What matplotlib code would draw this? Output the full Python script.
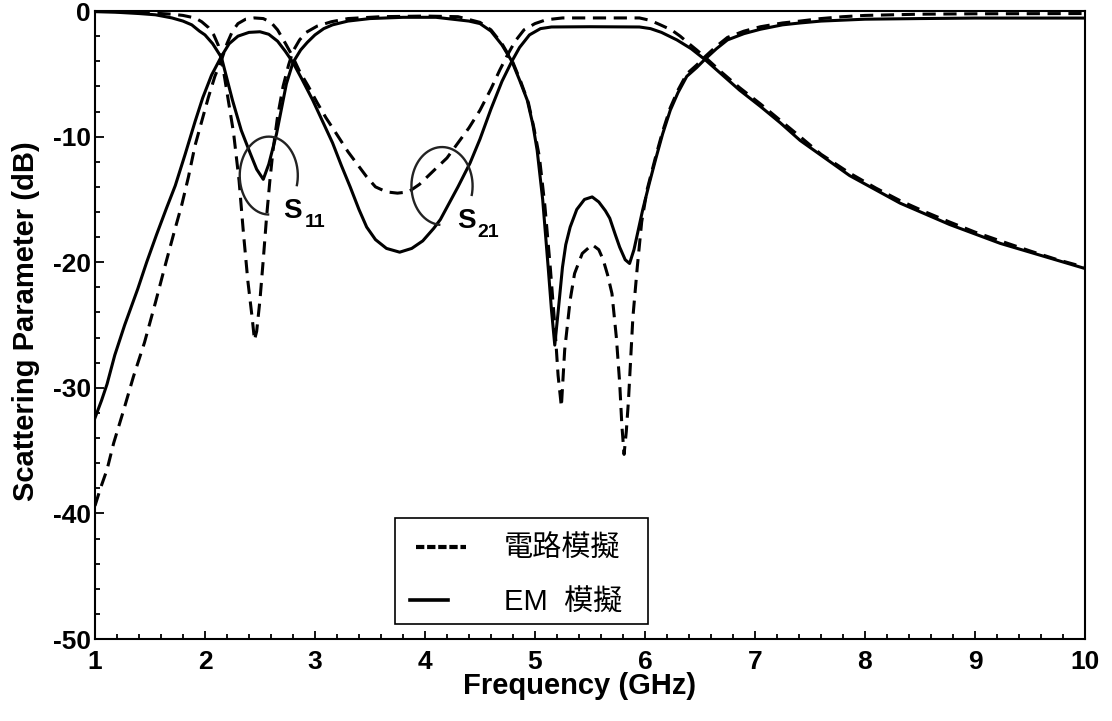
import matplotlib
matplotlib.use("Agg")
import numpy as np
import matplotlib.pyplot as plt
from matplotlib.patches import Rectangle
from matplotlib.lines import Line2D
from matplotlib.ticker import MultipleLocator

plt.rcParams['font.family'] = ['Liberation Sans', 'Noto Sans CJK TC', 'DejaVu Sans']
plt.rcParams['lines.scale_dashes'] = False

# ---------------- data ----------------
em_s11_f = [1.0, 1.2, 1.4, 1.55, 1.7, 1.8, 1.88, 1.95, 2.0, 2.07, 2.15, 2.25, 2.33, 2.41, 2.47,
            2.53, 2.58, 2.65, 2.74, 2.8, 2.87, 2.93, 3.0, 3.08, 3.16, 3.3, 3.5, 3.8, 4.1, 4.4,
            4.5, 4.6, 4.7, 4.79, 4.86, 4.93, 4.98, 5.02, 5.07, 5.12, 5.15, 5.18, 5.21, 5.25,
            5.28, 5.32, 5.38, 5.45, 5.52, 5.58, 5.64, 5.68, 5.73, 5.77, 5.82, 5.86, 5.9, 5.94,
            5.98, 6.04, 6.1, 6.16, 6.23, 6.3, 6.38, 6.47, 6.55, 6.65, 6.75, 6.9, 7.05, 7.25,
            7.41, 7.6, 8.0, 8.5, 9.0, 10.0]
em_s11_db = [-0.05, -0.1, -0.2, -0.3, -0.55, -0.8, -1.1, -1.6, -1.9, -2.6, -3.7, -7.1, -9.5, -11.3, -12.6,
             -13.4, -12.2, -9.8, -5.8, -4.1, -3.1, -2.5, -1.9, -1.4, -1.1, -0.8, -0.6, -0.5, -0.5, -0.8,
             -1.0, -1.6, -2.7, -4.0, -5.5, -7.1, -9.0, -11.1, -15.0, -20.4, -23.8, -26.6, -24.0, -20.4,
             -18.6, -17.2, -15.8, -15.0, -14.8, -15.2, -15.9, -16.5, -17.8, -18.8, -19.8, -20.1, -19.0, -17.4,
             -15.8, -13.7, -11.7, -9.8, -7.9, -6.5, -5.2, -4.5, -3.8, -3.0, -2.3, -1.8, -1.45, -1.1,
             -0.95, -0.8, -0.65, -0.6, -0.56, -0.56]

ckt_s11_f = [1.0, 1.4, 1.7, 1.8, 1.91, 1.97, 2.03, 2.08, 2.12, 2.16, 2.21, 2.26, 2.31, 2.35, 2.39,
             2.43, 2.45, 2.47, 2.5, 2.53, 2.56, 2.59, 2.62, 2.66, 2.71, 2.76, 2.8, 2.86, 2.92, 3.02,
             3.15, 3.3, 3.6, 4.0, 4.3, 4.5, 4.6, 4.7, 4.8, 4.87, 4.94, 4.99, 5.04, 5.09, 5.14,
             5.18, 5.21, 5.24, 5.27, 5.32, 5.36, 5.43, 5.52, 5.58, 5.62, 5.66, 5.7, 5.74, 5.77,
             5.79, 5.81, 5.83, 5.85, 5.89, 5.93, 5.97, 6.02, 6.1, 6.16, 6.23, 6.3, 6.38, 6.47,
             6.55, 6.65, 6.75, 6.9, 7.05, 7.25, 7.41, 7.6, 7.8, 8.0, 8.5, 9.0, 10.0]
ckt_s11_db = [0.0, -0.1, -0.25, -0.35, -0.55, -0.85, -1.3, -1.9, -2.7, -4.3, -7.0, -9.7, -13.5, -17.7, -21.5,
              -24.5, -26.2, -25.5, -23.0, -19.8, -16.4, -13.5, -11.0, -8.4, -6.0, -4.3, -3.2, -2.3, -1.7, -1.2,
              -0.85, -0.6, -0.45, -0.4, -0.45, -0.9, -1.5, -2.6, -4.1, -5.6, -7.3, -9.3, -11.6, -15.5, -20.5,
              -25.0, -29.0, -31.5, -27.0, -23.0, -20.9, -19.3, -18.6, -19.0, -19.8, -21.0, -22.5, -26.0, -29.6,
              -33.0, -35.3, -33.5, -31.0, -24.4, -20.4, -16.8, -14.2, -11.5, -9.6, -7.7, -6.3, -5.0, -4.3,
              -3.6, -2.8, -2.1, -1.6, -1.25, -0.95, -0.8, -0.6, -0.45, -0.35, -0.25, -0.22, -0.2]

em_s21_f = [1.0, 1.06, 1.11, 1.18, 1.27, 1.39, 1.47, 1.56, 1.65, 1.73, 1.82, 1.91, 1.98, 2.06, 2.15, 2.22,
            2.3, 2.4, 2.5, 2.58, 2.66, 2.73, 2.8, 2.88, 2.98, 3.07, 3.16, 3.24, 3.32, 3.4, 3.47,
            3.55, 3.65, 3.77, 3.88, 3.98, 4.08, 4.14, 4.22, 4.3, 4.41, 4.5, 4.6, 4.7, 4.79, 4.86,
            4.95, 5.05, 5.15, 5.5, 5.95, 6.05, 6.15, 6.29, 6.42, 6.55, 6.86, 7.05, 7.23, 7.41, 7.86,
            8.32, 8.77, 9.23, 10.0]
em_s21_db = [-32.4, -31.0, -29.7, -27.4, -25.0, -22.1, -20.0, -17.8, -15.7, -13.9, -11.4, -8.8, -6.9, -5.1, -3.6, -2.6,
             -2.0, -1.7, -1.65, -1.85, -2.4, -3.2, -4.1, -5.4, -7.1, -8.8, -10.5, -12.3, -14.0, -15.8, -17.2,
             -18.2, -18.9, -19.2, -18.9, -18.3, -17.3, -16.6, -15.3, -14.0, -12.1, -10.2, -7.8, -5.6, -4.0, -2.9,
             -1.9, -1.4, -1.27, -1.25, -1.27, -1.4, -1.7, -2.3, -3.0, -3.9, -6.3, -7.6, -8.9, -10.3, -13.1,
             -15.3, -17.0, -18.5, -20.5]

ckt_s21_f = [1.0, 1.05, 1.11, 1.17, 1.26, 1.35, 1.45, 1.55, 1.64, 1.72, 1.79, 1.85, 1.91, 1.97, 2.03,
             2.09, 2.15, 2.2, 2.25, 2.3, 2.37, 2.45, 2.53, 2.6, 2.66, 2.72, 2.79, 2.86, 2.94, 3.02,
             3.1, 3.16, 3.3, 3.47, 3.55, 3.65, 3.75, 3.85, 3.95, 4.08, 4.2, 4.3, 4.4, 4.5, 4.6,
             4.68, 4.75, 4.82, 4.9, 5.0, 5.1, 5.25, 5.95, 6.05, 6.14, 6.24, 6.32, 6.4, 6.47, 6.55,
             6.7, 6.86, 7.05, 7.23, 7.41, 7.6, 7.86, 8.1, 8.32, 8.55, 8.77, 9.0, 9.23, 9.5, 9.75, 10.0]
ckt_s21_db = [-39.4, -38.0, -36.5, -34.4, -31.8, -29.1, -26.4, -23.2, -20.2, -17.6, -15.4, -13.2, -10.7, -8.8, -6.9,
              -5.2, -3.9, -2.6, -1.6, -1.0, -0.65, -0.55, -0.6, -0.9, -1.5, -2.4, -3.5, -4.8, -6.0, -7.3,
              -8.5, -9.3, -11.2, -13.2, -14.0, -14.4, -14.5, -14.4, -13.8, -12.7, -11.7, -10.5, -9.3, -7.9, -6.2,
              -4.7, -3.5, -2.4, -1.5, -1.0, -0.7, -0.55, -0.55, -0.75, -1.1, -1.5, -2.0, -2.6, -3.1, -3.7,
              -4.9, -6.1, -7.4, -8.7, -10.0, -11.4, -12.9, -14.1, -15.1, -16.0, -16.8, -17.6, -18.3, -19.1, -19.8, -20.4]

x_ticks = [1, 2, 3, 4, 5, 6, 7, 8, 9, 10]
y_ticks = [-50, -40, -30, -20, -10, 0]
y_tick_labels = ['-50', '-40', '-30', '-20', '-10', '0']
legend_labels = ['電路模擬', 'EM  模擬']

# ---------------- figure ----------------
fig = plt.figure(figsize=(11.12, 7.21), dpi=100)
ax = fig.add_axes([0.0854, 0.1137, 0.8903, 0.8710])

lw = 2.2
dash = (0, (9.5, 5.5))
ax.plot(ckt_s11_f, ckt_s11_db, color='black', lw=lw, ls=dash)
ax.plot(ckt_s21_f, ckt_s21_db, color='black', lw=lw, ls=dash)
ax.plot(em_s11_f, em_s11_db, color='black', lw=lw, solid_joinstyle='round')
ax.plot(em_s21_f, em_s21_db, color='black', lw=lw, solid_joinstyle='round')

ax.set_xlim(1, 10)
ax.set_ylim(-50, 0)
ax.set_xticks(x_ticks)
ax.set_yticks(y_ticks)
ax.set_yticklabels(y_tick_labels)
ax.xaxis.set_minor_locator(MultipleLocator(0.2))
ax.yaxis.set_minor_locator(MultipleLocator(2))
ax.tick_params(which='both', direction='in', top=False, right=False, width=1.3)
ax.tick_params(axis='x', which='major', length=6, pad=8)
ax.tick_params(axis='x', which='minor', length=3.5)
ax.tick_params(axis='y', which='major', length=6.5, pad=3)
ax.tick_params(axis='y', which='minor', length=3.5)
for lab in ax.get_xticklabels() + ax.get_yticklabels():
    lab.set_fontsize(19)
    lab.set_fontweight('bold')
    lab.set_family('Liberation Sans')
for sp in ax.spines.values():
    sp.set_linewidth(1.5)

ax.set_xlabel('Frequency (GHz)', fontsize=21, fontweight='bold', family='Liberation Sans')
ax.set_ylabel('Scattering Parameter (dB)', fontsize=21, fontweight='bold', family='Liberation Sans')
ax.xaxis.set_label_coords(0.489, -0.052)
ax.yaxis.set_label_coords(-0.056, 0.507)


# annotation ellipses (open arcs) and labels
def open_ellipse(cx, cy, rx, ry, t1, t2):
    t = np.radians(np.linspace(t1, t2, 240))
    ax.plot(cx + rx * np.cos(t), cy + ry * np.sin(t), color='#222222', lw=1.7,
            solid_capstyle='butt')


open_ellipse(2.58, -13.1, 0.264, 3.1, -16, 271)
open_ellipse(4.155, -13.93, 0.278, 3.1, -15, 267)
ax.text(2.709, -16.48, 'S', fontsize=20, fontweight='bold', va='baseline', ha='left')
ax.text(2.909, -17.2, '11', fontsize=14, fontweight='bold', va='baseline', ha='left')
ax.text(4.291, -17.28, 'S', fontsize=20, fontweight='bold', va='baseline', ha='left')
ax.text(4.473, -18.0, '21', fontsize=14, fontweight='bold', va='baseline', ha='left')

# legend box
ax.add_patch(Rectangle((0.303, 0.0239), 0.2556, 0.1688, transform=ax.transAxes,
                       fill=True, facecolor='white', edgecolor='black', lw=1.2, zorder=5))
ax.add_line(Line2D([0.3242, 0.3747], [0.1465, 0.1465], transform=ax.transAxes, color='black',
                   lw=3, ls=(0, (6, 2)), zorder=6))
ax.add_line(Line2D([0.3182, 0.3566], [0.0621, 0.0621], transform=ax.transAxes, color='black',
                   lw=2.6, zorder=6))
ax.text(0.413, 0.145, legend_labels[0], transform=ax.transAxes, fontsize=21, va='center', ha='left',
        family=['Noto Sans CJK TC', 'DejaVu Sans'], zorder=6)
ax.text(0.413, 0.059, legend_labels[1], transform=ax.transAxes, fontsize=21, va='center', ha='left',
        family=['Liberation Sans', 'Noto Sans CJK TC'], zorder=6)

fig.savefig('out.png', dpi=100)
